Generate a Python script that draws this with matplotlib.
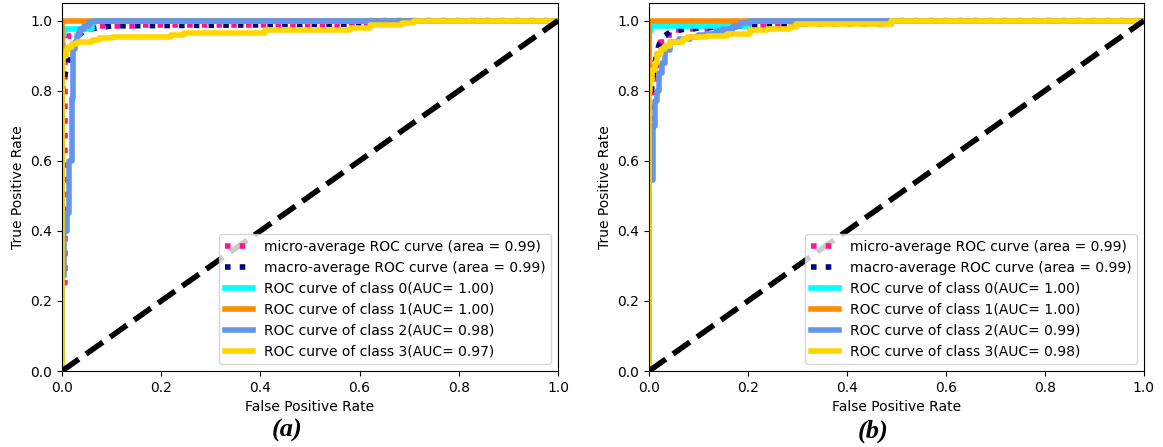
import numpy as np
import matplotlib
matplotlib.use('Agg')
import matplotlib.pyplot as plt

# ---- panel (a) ----
a_micro_fpr = [0, 0, 0.007, 0.007, 0.012, 0.012, 0.02, 0.02, 0.035, 0.035, 0.06, 0.06, 0.15, 0.15, 0.62, 0.62, 1]
a_micro_tpr = [0, 0.25, 0.25, 0.93, 0.93, 0.957, 0.957, 0.965, 0.965, 0.976, 0.976, 0.985, 0.985, 0.989, 0.989, 1, 1]
a_macro_fpr = [0, 0, 0.005, 0.01, 0.015, 0.02, 0.03, 0.05, 0.1, 0.62, 0.62, 1]
a_macro_tpr = [0, 0.8, 0.84, 0.87, 0.9, 0.93, 0.955, 0.975, 0.985, 0.99, 1, 1]
a_c0_fpr = [0, 0, 0.005, 0.005, 0.06, 0.06, 1]
a_c0_tpr = [0, 0.96, 0.96, 0.977, 0.977, 1, 1]
a_c1_fpr = [0, 0, 1]
a_c1_tpr = [0, 1, 1]
a_c2_fpr = [0, 0, 0.004, 0.004, 0.0095, 0.0095, 0.015, 0.015, 0.0195, 0.0195, 0.022, 0.022,
            0.026, 0.026, 0.03, 0.03, 0.036, 0.036, 0.045, 0.045, 0.055, 0.055, 0.066, 0.066, 1]
a_c2_tpr = [0, 0.27, 0.27, 0.40, 0.40, 0.45, 0.45, 0.6, 0.6, 0.78, 0.78, 0.92,
            0.92, 0.94, 0.94, 0.96, 0.96, 0.975, 0.975, 0.985, 0.985, 0.995, 0.995, 1, 1]
a_c3_fpr = [0, 0, 0.003, 0.003, 0.008, 0.008, 0.013, 0.013, 0.02, 0.02, 0.03, 0.03, 0.06, 0.06,
            0.075, 0.075, 0.1, 0.1, 0.22, 0.22, 0.245, 0.245, 0.41, 0.41, 0.58, 0.58, 0.62, 0.62,
            0.685, 0.685, 0.71, 0.71, 1]
a_c3_tpr = [0, 0.88, 0.88, 0.9, 0.9, 0.915, 0.915, 0.925, 0.925, 0.934, 0.934, 0.938, 0.938, 0.945,
            0.945, 0.951, 0.951, 0.954, 0.954, 0.96, 0.96, 0.966, 0.966, 0.973, 0.973, 0.98, 0.98, 0.989,
            0.989, 0.994, 0.994, 1, 1]
a_auc = ['1.00', '1.00', '0.98', '0.97']

# ---- panel (b) ----
b_micro_fpr = [0, 0, 0.008, 0.008, 0.01, 0.01, 0.016, 0.016, 0.022, 0.022, 0.035, 0.035, 0.05, 0.05,
               0.08, 0.08, 0.117, 0.117, 0.2, 0.2, 0.29, 0.29, 0.49, 0.49, 1]
b_micro_tpr = [0, 0.72, 0.72, 0.8, 0.8, 0.87, 0.87, 0.905, 0.905, 0.94, 0.94, 0.96, 0.96, 0.972,
               0.972, 0.977, 0.977, 0.981, 0.981, 0.986, 0.986, 0.991, 0.991, 1, 1]
b_macro_fpr = [0, 0, 0.005, 0.01, 0.015, 0.02, 0.03, 0.045, 0.08, 0.15, 0.25, 0.3, 0.49, 1]
b_macro_tpr = [0, 0.78, 0.8, 0.86, 0.9, 0.93, 0.955, 0.97, 0.977, 0.982, 0.988, 0.991, 1, 1]
b_c0_fpr = [0, 0, 0.005, 0.005, 0.2, 0.2, 1]
b_c0_tpr = [0, 0.97, 0.97, 0.985, 0.985, 1, 1]
b_c1_fpr = [0, 0, 1]
b_c1_tpr = [0, 1, 1]
b_c2_fpr = [0, 0, 0.0075, 0.0075, 0.012, 0.012, 0.016, 0.016, 0.02, 0.02, 0.026, 0.026, 0.032, 0.032,
            0.042, 0.042, 0.06, 0.06, 0.083, 0.083, 0.1, 0.1, 0.117, 0.117, 0.135, 0.135, 0.15, 0.15,
            0.17, 0.17, 0.184, 0.184, 0.204, 0.204, 1]
b_c2_tpr = [0, 0.545, 0.545, 0.7, 0.7, 0.77, 0.77, 0.8, 0.8, 0.85, 0.85, 0.88, 0.88, 0.915,
            0.915, 0.939, 0.939, 0.947, 0.947, 0.953, 0.953, 0.958, 0.958, 0.963, 0.963, 0.97, 0.97, 0.977,
            0.977, 0.985, 0.985, 0.992, 0.992, 1, 1]
b_c3_fpr = [0, 0, 0.003, 0.003, 0.006, 0.006, 0.012, 0.012, 0.016, 0.016, 0.024, 0.024, 0.032, 0.032,
            0.042, 0.042, 0.069, 0.069, 0.076, 0.076, 0.117, 0.117, 0.157, 0.157, 0.204, 0.204,
            0.238, 0.238, 0.285, 0.285, 0.298, 0.298, 0.49, 0.49, 1]
b_c3_tpr = [0, 0.8, 0.8, 0.83, 0.83, 0.858, 0.858, 0.88, 0.88, 0.905, 0.905, 0.918, 0.918, 0.929,
            0.929, 0.939, 0.939, 0.948, 0.948, 0.953, 0.953, 0.957, 0.957, 0.962, 0.962, 0.972,
            0.972, 0.977, 0.977, 0.981, 0.981, 0.991, 0.991, 1, 1]
b_auc = ['1.00', '1.00', '0.99', '0.98']

micro_area = ['0.99', '0.99']
macro_area = ['0.99', '0.99']
class_colors = ['aqua', 'darkorange', 'cornflowerblue', 'gold']
captions = ['(a)', '(b)']


def plot_roc(ax, micro, macro, classes, auc, mi_area, ma_area):
    ax.plot(micro[0], micro[1], label=f'micro-average ROC curve (area = {mi_area})',
            color='deeppink', linestyle=':', linewidth=4)
    ax.plot(macro[0], macro[1], label=f'macro-average ROC curve (area = {ma_area})',
            color='navy', linestyle=':', linewidth=4)
    for i, (f, t) in enumerate(classes):
        ax.plot(f, t, color=class_colors[i], lw=4,
                label=f'ROC curve of class {i}(AUC= {auc[i]})')
    ax.plot([0, 1], [0, 1], 'k--', lw=4)
    ax.set_xlim([0.0, 1.0])
    ax.set_ylim([0.0, 1.05])
    ax.set_xlabel('False Positive Rate')
    ax.set_ylabel('True Positive Rate')
    ax.legend(loc='lower right')


fig = plt.figure(figsize=(11.63, 4.47), dpi=100)
ax1 = fig.add_axes([0.0533, 0.170, 0.4265, 0.823])
ax2 = fig.add_axes([0.558, 0.170, 0.4256, 0.823])

plot_roc(ax1, (a_micro_fpr, a_micro_tpr), (a_macro_fpr, a_macro_tpr),
         [(a_c0_fpr, a_c0_tpr), (a_c1_fpr, a_c1_tpr), (a_c2_fpr, a_c2_tpr), (a_c3_fpr, a_c3_tpr)],
         a_auc, micro_area[0], macro_area[0])
plot_roc(ax2, (b_micro_fpr, b_micro_tpr), (b_macro_fpr, b_macro_tpr),
         [(b_c0_fpr, b_c0_tpr), (b_c1_fpr, b_c1_tpr), (b_c2_fpr, b_c2_tpr), (b_c3_fpr, b_c3_tpr)],
         b_auc, micro_area[1], macro_area[1])

fig.text(0.2468, 0.036, captions[0], ha='center', va='center', fontsize=19,
         fontweight='bold', style='italic', family='Liberation Serif')
fig.text(0.7506, 0.036, captions[1], ha='center', va='center', fontsize=19,
         fontweight='bold', style='italic', family='Liberation Serif')

fig.savefig('out.png', dpi=100)
